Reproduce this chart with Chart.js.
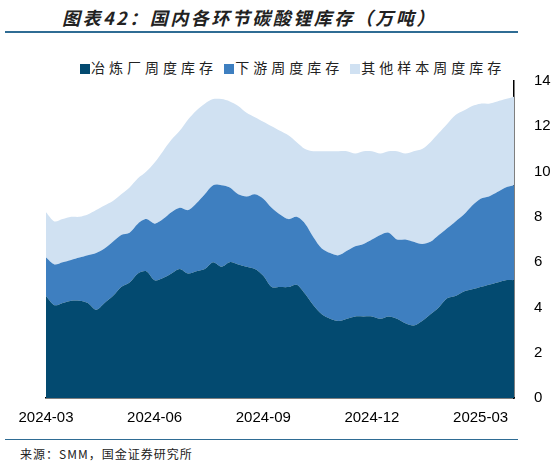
<!DOCTYPE html>
<html><head><meta charset="utf-8">
<script src="https://cdn.jsdelivr.net/npm/chart.js@4"></script>
<style>
body{margin:0;width:559px;height:467px;background:#fff;position:relative;overflow:hidden;font-family:"Noto Sans CJK SC",sans-serif;}
#title{position:absolute;left:62px;top:4px;font-size:18px;font-weight:bold;font-style:italic;color:#222;letter-spacing:2.5px;}
#l1{position:absolute;left:5px;top:31px;width:513px;height:2px;background:#2f6c94;}
#legend{position:absolute;left:80px;top:57px;font-size:14px;color:#222;letter-spacing:4px;white-space:nowrap;}
#legend span.b{display:inline-block;width:10px;height:10px;margin-right:1px;vertical-align:-1px;}
#l2{position:absolute;left:5px;top:439px;width:513px;height:1px;background:#2f6c94;}
#src{position:absolute;left:20px;top:445px;font-size:12px;color:#222;letter-spacing:1px;}
#wrap{position:absolute;left:0;top:60px;width:559px;height:372px;}
</style></head><body>
<div id="title">图表42：国内各环节碳酸锂库存（万吨）</div>
<div id="l1"></div>
<div id="legend"><span class="b" style="background:#034a70"></span>冶炼厂周度库存 <span class="b" style="background:#3e7fc0"></span>下游周度库存 <span class="b" style="background:#d0e1f2"></span>其他样本周度库存</div>
<div id="wrap"><canvas id="c"></canvas></div>
<div id="l2"></div>
<div id="src">来源：SMM，国金证券研究所</div>
<script>
const seriesNames=["冶炼厂周度库存","下游周度库存","其他样本周度库存"];
const smelter=[4.5,4.1,4.2,4.3,4.3,4.2,3.9,4.2,4.5,4.9,5.1,5.5,5.6,5.2,5.3,5.5,5.7,5.5,5.6,5.7,6.0,5.8,6.0,5.9,5.8,5.7,5.4,4.9,4.9,4.9,5.0,4.6,4.1,3.7,3.5,3.4,3.5,3.6,3.6,3.6,3.5,3.6,3.5,3.3,3.2,3.4,3.7,4.0,4.4,4.5,4.7,4.8,4.9,5.0,5.1,5.2,5.2];
const downstream=[1.7,1.8,1.8,1.8,1.9,2.1,2.5,2.4,2.4,2.3,2.2,2.2,2.3,2.5,2.6,2.7,2.7,2.8,3.0,3.3,3.4,3.6,3.3,3.1,3.1,3.3,3.4,3.5,3.2,3.0,3.0,3.1,3.0,2.9,2.9,2.9,3.0,3.1,3.2,3.4,3.7,3.7,3.5,3.7,3.7,3.4,3.2,3.2,3.1,3.3,3.4,3.7,3.9,3.9,4.0,4.1,4.2];
const other=[2.0,1.9,1.9,1.9,1.8,1.8,1.9,1.9,1.8,1.8,2.0,2.0,2.1,2.7,3.0,3.2,3.4,4.0,4.1,4.0,3.8,3.8,3.8,3.9,3.7,3.4,3.4,3.6,3.7,3.7,3.3,3.3,3.8,4.3,4.5,4.6,4.4,4.1,4.1,3.9,3.6,3.6,3.9,3.8,4.0,4.2,4.4,4.5,4.6,4.7,4.6,4.4,4.2,4.1,4.0,3.9,3.9];
const tickIdx=[0,13,26,39,52];
const tickLabels=["2024-03","2024-06","2024-09","2024-12","2025-03"];
const yTicks=[0,2,4,6,8,10,12,14];
const colors=["#034a70","#3e7fc0","#d0e1f2"];
const vals=[smelter,downstream,other];
new Chart(document.getElementById('c'),{type:'line',
data:{datasets:vals.map((v,k)=>({label:seriesNames[k],data:v.map((y,i)=>({x:i,y})),backgroundColor:colors[k],borderWidth:0,pointRadius:0,fill:k===0?'origin':'-1',tension:0.3}))},
options:{responsive:true,maintainAspectRatio:false,animation:false,
layout:{padding:{top:11,left:46,right:0,bottom:0}},
plugins:{legend:{display:false},tooltip:{enabled:false}},
scales:{
x:{type:'linear',min:0,max:56,grid:{display:false,drawTicks:true},border:{color:'#000',width:1.5},
 afterBuildTicks:a=>{a.ticks=tickIdx.map(v=>({value:v}));},
 afterFit:a=>{a.height=34;},
 ticks:{autoSkip:false,maxRotation:0,color:'#000',font:{family:'Liberation Sans',size:15},callback:(v)=>tickLabels[tickIdx.indexOf(v)]}},
y:{position:'right',stacked:true,min:0,max:14,grid:{display:false},border:{color:'#000',width:1.5},
 afterBuildTicks:a=>{a.ticks=yTicks.map(v=>({value:v}));},
 afterFit:a=>{a.width=45;},
 ticks:{color:'#000',padding:12,font:{family:'Liberation Sans',size:15}}}
}}});
</script></body></html>
